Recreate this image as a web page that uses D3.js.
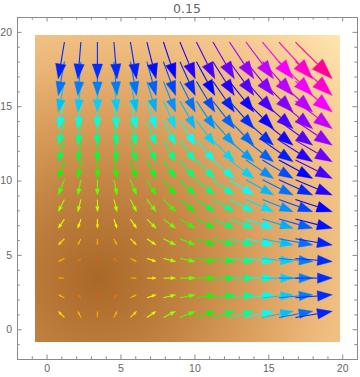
<!DOCTYPE html>
<html>
<head>
<script src="https://d3js.org/d3.v7.min.js"></script>
<style type="text/css">
    html, body {
        margin: 0;
        padding: 0;
        background: #fff;
    }
    svg {
        display: block;
        font-family: "DejaVu Sans", sans-serif;
    }
</style>
</head>
<body>
<div id="chart"></div>
<script>
var title = '0.15';

// grid points where the arrows sit (same on both axes)
var colX = [1.0, 2.22, 3.44, 4.66, 5.88, 7.1, 8.32, 9.54, 10.76, 11.98, 13.2, 14.42, 15.64, 16.86, 18.08];
var rowY = [1.0, 2.22, 3.44, 4.66, 5.88, 7.1, 8.32, 9.54, 10.76, 11.98, 13.2, 14.42, 15.64, 16.86, 18.08];

// horizontal component by column, vertical component by row
var uByCol = [-2.44, -1.22, 0, 1.22, 2.44, 3.66, 4.88, 6.1, 7.32, 8.54, 9.76, 10.98, 12.2, 13.42, 14.64];
var vByRow = [2.44, 1.22, 0, -1.22, -2.44, -3.66, -4.88, -6.1, -7.32, -8.54, -9.76, -10.98, -12.2, -13.42, -14.64];

var xTicks = [0, 5, 10, 15, 20];
var yTicks = [0, 5, 10, 15, 20];

// background (magnitude density) colour stops
var densityStops = [0, 5, 10, 15, 19, 23.5];
var densityColors = ['#a96827', '#bd7d3c', '#d69957', '#ecb879', '#f6cc92', '#ffe9b2'];

var width = 360, height = 377;

var x = d3.scaleLinear().domain([-2, 21]).range([17, 357]);
var y = d3.scaleLinear().domain([-2, 21]).range([359, 17]);

var svg = d3.select('#chart').append('svg')
    .attr('width', width)
    .attr('height', height);

// field lookups (piecewise, extends past the grid)
var uAt = d3.scaleLinear().domain(colX).range(uByCol);
var vAt = d3.scaleLinear().domain(rowY).range(vByRow);

// --- density background
var px0 = Math.round(x(-0.8)), px1 = Math.round(x(19.85));
var py0 = Math.round(y(19.8)), py1 = Math.round(y(-0.85));
var cw = px1 - px0, ch = py1 - py0;
var canvas = document.createElement('canvas');
canvas.width = cw;
canvas.height = ch;
var ctx = canvas.getContext('2d');
var img = ctx.createImageData(cw, ch);
var dens = d3.scaleLinear().domain(densityStops).range(densityColors).clamp(true);
for (var j = 0; j < ch; j++) {
    var yv = y.invert(py0 + j + 0.5);
    var vv = vAt(yv);
    for (var i = 0; i < cw; i++) {
        var xv = x.invert(px0 + i + 0.5);
        var c = d3.rgb(dens(Math.hypot(uAt(xv), vv)));
        var k = (j * cw + i) * 4;
        img.data[k] = c.r;
        img.data[k + 1] = c.g;
        img.data[k + 2] = c.b;
        img.data[k + 3] = 255;
    }
}
ctx.putImageData(img, 0, 0);
svg.append('image')
    .attr('x', px0).attr('y', py0)
    .attr('width', cw).attr('height', ch)
    .attr('href', canvas.toDataURL());

// --- arrows
var vectors = [];
colX.forEach(function(cx, i) {
    rowY.forEach(function(cy, j) {
        var u = uByCol[i], v = vByRow[j];
        vectors.push({x: cx, y: cy, u: u, v: v, m: Math.hypot(u, v)});
    });
});
var mMax = d3.max(vectors, function(d) { return d.m; });
var len = d3.scaleLinear().domain([0, mMax]).range([0, 52]);
var hue = d3.scaleLinear().domain([0, mMax]).range([0, 324]);

var arrows = svg.append('g').selectAll('g')
    .data(vectors.filter(function(d) { return d.m > 0; }))
    .enter().append('g')
    .each(function(d) {
        var L = len(d.m);
        var dx = d.u / d.m, dy = -d.v / d.m;
        var cx = x(d.x), cy = y(d.y);
        var tx = cx - dx * L / 2, ty = cy - dy * L / 2;
        var hx = cx + dx * L / 2, hy = cy + dy * L / 2;
        var hl = 0.4 * L, hw = 0.14 * L;
        var bx = hx - dx * hl, by = hy - dy * hl;
        var col = d3.hsl(hue(d.m), 1, 0.5).toString();
        var g = d3.select(this);
        g.append('line')
            .attr('x1', tx).attr('y1', ty)
            .attr('x2', bx).attr('y2', by)
            .attr('stroke', col)
            .attr('stroke-width', 1.1);
        g.append('path')
            .attr('d', 'M' + hx + ',' + hy +
                'L' + (bx - dy * hw) + ',' + (by + dx * hw) +
                'L' + (bx + dy * hw) + ',' + (by - dx * hw) + 'Z')
            .attr('fill', col)
            .attr('stroke', col)
            .attr('stroke-width', 0.6)
            .attr('stroke-opacity', 0.7);
    });

// --- frame and ticks
var frameColor = '#8a8a8a';
var minor = d3.range(-1, 21).filter(function(t) { return t % 5 !== 0; });

function styleAxis(g) {
    g.select('.domain').remove();
    g.selectAll('line').attr('stroke', frameColor);
    g.selectAll('text').attr('fill', '#666').style('font-size', '10.5px');
}

svg.append('g').attr('transform', 'translate(0,' + y.range()[0] + ')')
    .call(d3.axisBottom(x).tickValues(xTicks).tickSize(-4.5).tickPadding(6)).call(styleAxis);
svg.append('g').attr('transform', 'translate(0,' + y.range()[0] + ')')
    .call(d3.axisBottom(x).tickValues(minor).tickSize(-2.7).tickFormat('')).call(styleAxis);
svg.append('g').attr('transform', 'translate(0,' + y.range()[1] + ')')
    .call(d3.axisTop(x).tickValues(xTicks).tickSize(-4.5).tickFormat('')).call(styleAxis);
svg.append('g').attr('transform', 'translate(0,' + y.range()[1] + ')')
    .call(d3.axisTop(x).tickValues(minor).tickSize(-2.7).tickFormat('')).call(styleAxis);
svg.append('g').attr('transform', 'translate(' + x.range()[0] + ',0)')
    .call(d3.axisLeft(y).tickValues(yTicks).tickSize(-4.5).tickPadding(5)).call(styleAxis);
svg.append('g').attr('transform', 'translate(' + x.range()[0] + ',0)')
    .call(d3.axisLeft(y).tickValues(minor).tickSize(-2.7).tickFormat('')).call(styleAxis);
svg.append('g').attr('transform', 'translate(' + x.range()[1] + ',0)')
    .call(d3.axisRight(y).tickValues(yTicks).tickSize(-4.5).tickFormat('')).call(styleAxis);
svg.append('g').attr('transform', 'translate(' + x.range()[1] + ',0)')
    .call(d3.axisRight(y).tickValues(minor).tickSize(-2.7).tickFormat('')).call(styleAxis);

svg.append('rect')
    .attr('x', x.range()[0] + 0.5).attr('y', y.range()[1] + 0.5)
    .attr('width', x.range()[1] - x.range()[0])
    .attr('height', y.range()[0] - y.range()[1])
    .attr('fill', 'none')
    .attr('stroke', frameColor);

svg.append('text')
    .attr('x', (x.range()[0] + x.range()[1]) / 2)
    .attr('y', 13)
    .attr('text-anchor', 'middle')
    .attr('fill', '#666')
    .style('font-size', '12.5px')
    .text(title);
</script>
</body>
</html>
